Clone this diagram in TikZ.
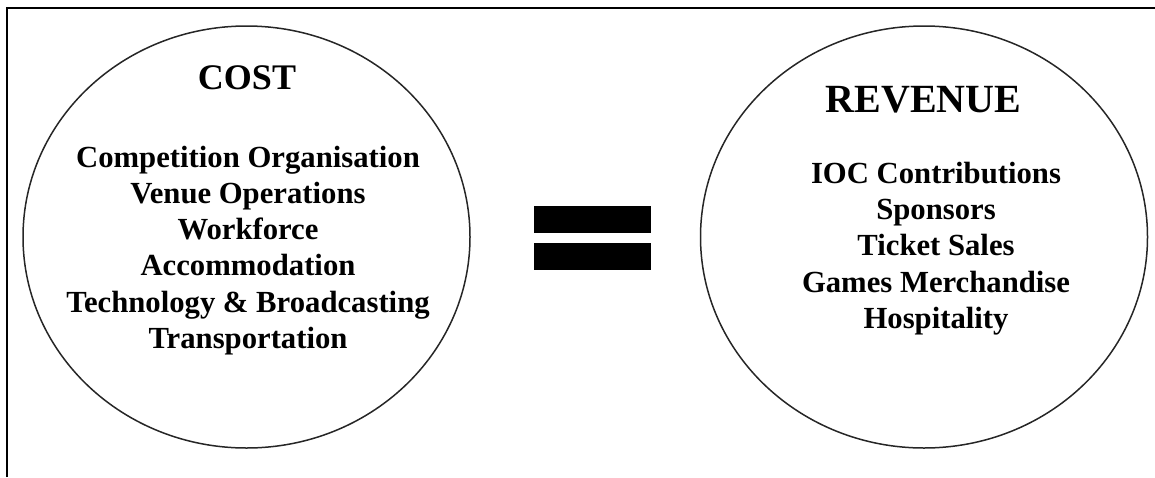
\documentclass[tikz,border=0pt]{standalone}
\usepackage{fontspec}
\setmainfont{Liberation Serif}
\begin{document}
\begin{tikzpicture}[x=1pt,y=-1pt,
  frame/.style={line width=2pt,black},
  bubble/.style={line width=1.5pt,black!85},
  bar/.style={fill=black,draw=none,inner sep=0,minimum width=117pt,minimum height=27pt},
  title/.style={font=\fontsize{36}{40}\selectfont\bfseries},
  items/.style={align=center,font=\fontsize{30.7}{36.2}\selectfont\bfseries}]
\useasboundingbox (0,0) rectangle (1155,477);
\draw[frame] (7,477) -- (7,8) -- (1155,8);
\draw[bubble] (246.5,237) ellipse [x radius=223.5, y radius=211];
\draw[bubble] (924,237) ellipse [x radius=223.5, y radius=211];
\node[bar] (bartop) at (592.5,219.5) {};
\node[bar] (barbot) at (592.5,256.5) {};
\node[title] (cost) at (247,78) {COST};
\node[items] (costlist) at (248,250.5) {Competition Organisation\\Venue Operations\\Workforce\\Accommodation\\Technology \& Broadcasting\\Transportation};
\node[title,font=\fontsize{40}{44}\selectfont\bfseries] (rev) at (923.5,100) {REVENUE};
\node[items] (revlist) at (936,248.5) {IOC Contributions\\Sponsors\\Ticket Sales\\Games Merchandise\\Hospitality};
\end{tikzpicture}
\end{document}
